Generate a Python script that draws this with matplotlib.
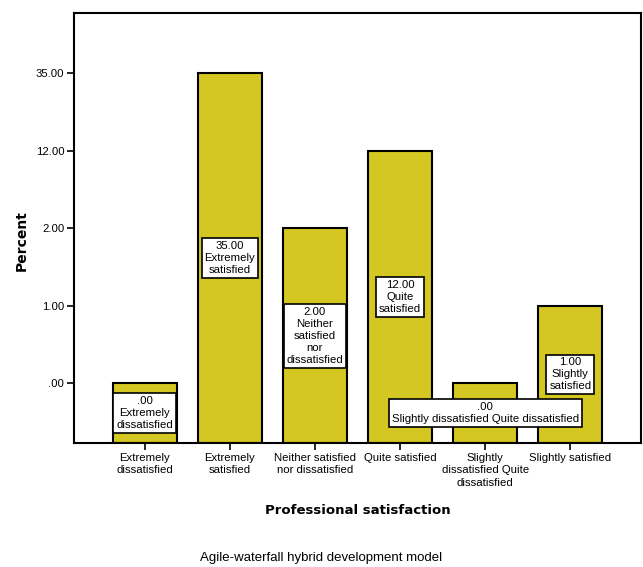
import matplotlib.pyplot as plt

# data
categories = ['Extremely\ndissatisfied', 'Extremely\nsatisfied', 'Neither satisfied\nnor dissatisfied',
              'Quite satisfied', 'Slightly\ndissatisfied Quite\ndissatisfied', 'Slightly satisfied']
box_names = ['Extremely\ndissatisfied', 'Extremely\nsatisfied', 'Neither\nsatisfied\nnor\ndissatisfied',
             'Quite\nsatisfied', 'Slightly dissatisfied Quite dissatisfied', 'Slightly\nsatisfied']
values = [0, 35, 2, 12, 0, 1]

# the y axis in the original is ordinal: one step per distinct value
ytick_values = [0, 1, 2, 12, 35]
ytick_labels = ['.00', '1.00', '2.00', '12.00', '35.00']


def fmt(v):
    return '.00' if v == 0 else f'{v:.2f}'


plt.rcParams['font.family'] = ['Liberation Sans', 'DejaVu Sans']

fig = plt.figure(figsize=(6.43, 5.67), dpi=100)
ax = fig.add_axes([0.1151, 0.2187, 0.8818, 0.7583])

ylo, yhi = -0.77, 4.78
levels = [ytick_values.index(v) for v in values]
x = list(range(len(categories)))

ax.bar(x, [l - ylo for l in levels], bottom=ylo, width=0.75,
       color='#d5c722', edgecolor='black', linewidth=1.5)

for xi, lv, v, name in zip(x, levels, values, box_names):
    ax.text(xi, (lv + ylo) / 2, fmt(v) + '\n' + name, ha='center', va='center',
            fontsize=8.2, linespacing=1.25,
            bbox=dict(boxstyle='square,pad=0.25', facecolor='white', edgecolor='black', linewidth=1.2))

ax.set_xlim(-0.83, 5.83)
ax.set_ylim(ylo, yhi)
ax.set_xticks(x)
ax.set_xticklabels(categories, fontsize=8.2, linespacing=1.3)
ax.set_yticks(range(len(ytick_values)))
ax.set_yticklabels(ytick_labels, fontsize=8.2)
ax.tick_params(direction='out', length=5, width=1.2, pad=2)

for s in ax.spines.values():
    s.set_linewidth(1.5)

ax.set_ylabel('Percent', fontsize=10, fontweight='bold', family='DejaVu Sans')
ax.yaxis.set_label_coords(-0.08, 0.47)
ax.set_xlabel('Professional satisfaction', fontsize=9.5, fontweight='bold', family='DejaVu Sans', labelpad=12)

fig.text(0.5, 0.005, 'Agile-waterfall hybrid development model', ha='center', va='bottom', fontsize=9.5)

fig.savefig('out.png', dpi=100)
